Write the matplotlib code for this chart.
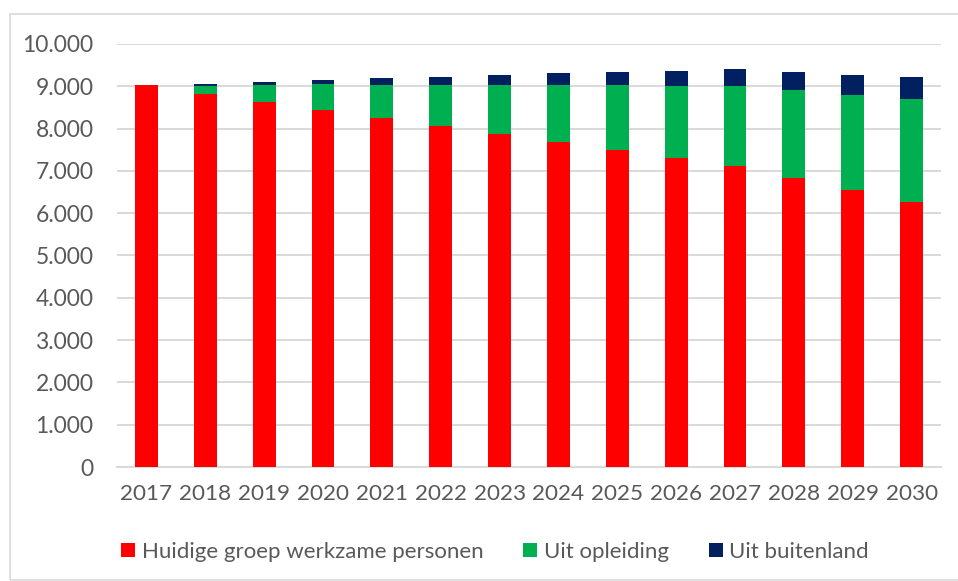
import matplotlib.pyplot as plt
from matplotlib.patches import Rectangle
from matplotlib.ticker import FuncFormatter, MultipleLocator

# data
years = ['2017', '2018', '2019', '2020', '2021', '2022', '2023',
         '2024', '2025', '2026', '2027', '2028', '2029', '2030']
huidige = [9020, 8820, 8630, 8440, 8250, 8060, 7870,
           7680, 7490, 7300, 7110, 6830, 6550, 6270]
opleiding = [0, 195, 400, 605, 780, 970, 1150,
             1355, 1535, 1715, 1900, 2090, 2255, 2430]
buitenland = [0, 47, 78, 102, 165, 196, 244,
              276, 314, 355, 394, 425, 465, 520]

labels = ['Huidige groep werkzame personen', 'Uit opleiding', 'Uit buitenland']
colors = ['#FF0000', '#00B050', '#002060']

plt.rcParams['font.family'] = ['Lato', 'DejaVu Sans']
txt = '#595959'

fig = plt.figure(figsize=(9.58, 5.81), dpi=100)
W, H = 958, 581
ax = fig.add_axes([117 / W, 1 - 467 / H, (941 - 117) / W, (467 - 44) / H])

x = list(range(len(years)))
bottom2 = huidige
bottom3 = [a + b for a, b in zip(huidige, opleiding)]
ax.bar(x, huidige, width=0.39, color=colors[0], label=labels[0], zorder=3)
ax.bar(x, opleiding, width=0.39, bottom=bottom2, color=colors[1], label=labels[1], zorder=3)
ax.bar(x, buitenland, width=0.39, bottom=bottom3, color=colors[2], label=labels[2], zorder=3)

ax.set_xlim(-0.5, len(years) - 0.5)
ax.set_ylim(0, 10000)
ax.yaxis.set_major_locator(MultipleLocator(1000))
ax.yaxis.set_major_formatter(FuncFormatter(lambda v, p: f"{int(v):,}".replace(",", ".")))
ax.set_xticks(x)
ax.set_xticklabels(years)

ax.grid(axis='y', color='#d9d9d9', linewidth=1.4, zorder=0)
ax.set_axisbelow(True)
for s in ['top', 'right', 'left']:
    ax.spines[s].set_visible(False)
ax.spines['bottom'].set_color('#d9d9d9')
ax.spines['bottom'].set_linewidth(1.4)
ax.tick_params(axis='y', length=0, pad=17, labelsize=16.5, labelcolor=txt)
ax.tick_params(axis='x', length=0, pad=12, labelsize=16.2, labelcolor=txt)

fig.legend(loc='center', bbox_to_anchor=(495 / W, 1 - 552 / H), ncol=3,
           frameon=False, fontsize=16, labelcolor=txt,
           handlelength=0.62, handleheight=0.62, handletextpad=0.3,
           columnspacing=1.8)

# outer chart border
fig.add_artist(Rectangle((10 / W, 1 - 580 / H), 2, (580 - 14) / H,
                         transform=fig.transFigure, fill=False,
                         edgecolor='#d9d9d9', linewidth=1.2))

fig.savefig('out.png', dpi=100)
